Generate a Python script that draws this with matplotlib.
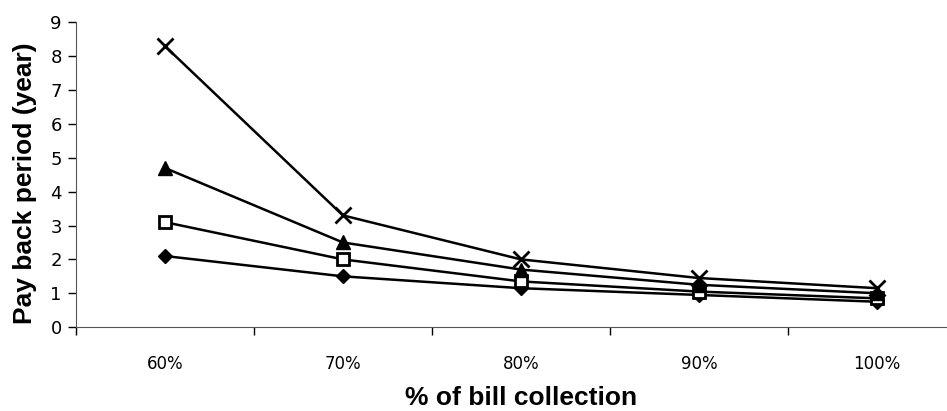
import matplotlib.pyplot as plt
plt.switch_backend('Agg')
import numpy as np
from matplotlib.ticker import FixedLocator

categories = ["60%", "70%", "80%", "90%", "100%"]
cross_vals = [8.3, 3.3, 2.0, 1.45, 1.15]
triangle_vals = [4.7, 2.5, 1.7, 1.25, 1.0]
square_vals = [3.1, 2.0, 1.35, 1.05, 0.85]
diamond_vals = [2.1, 1.5, 1.15, 0.95, 0.75]

fig = plt.figure(figsize=(9.47, 4.11), dpi=100)
ax = fig.add_axes([0.080, 0.204, 0.940, 0.742])

x = np.arange(len(categories))
ax.plot(x, diamond_vals, color='black', lw=1.8, marker='D', ms=7, mfc='black')
ax.plot(x, square_vals, color='black', lw=1.8, marker='s', ms=9, mfc='white', mew=2)
ax.plot(x, triangle_vals, color='black', lw=1.8, marker='^', ms=10, mfc='black')
ax.plot(x, cross_vals, color='black', lw=1.8, marker='x', ms=11, mew=2)

ax.set_xlim(-0.5, len(categories) - 0.5)
ax.set_ylim(0, 9)
ax.set_yticks(range(0, 10))
ax.set_xticks(x)
ax.set_xticklabels(categories)
ax.xaxis.set_minor_locator(FixedLocator(np.arange(-0.5, len(categories), 1.0)))
ax.tick_params(axis='x', which='major', length=0, pad=20, labelsize=12)
ax.tick_params(axis='x', which='minor', length=6, width=1, direction='out')
ax.tick_params(axis='y', length=6, width=1, labelsize=13, pad=4)

for s in ['top', 'right']:
    ax.spines[s].set_visible(False)
ax.spines['left'].set_color('#555555')
ax.spines['bottom'].set_color('#555555')

ax.set_ylabel("Pay back period (year)", fontsize=19, fontweight='bold',
              family='Liberation Sans')
ax.yaxis.set_label_coords(-0.057, 0.473)
ax.yaxis.label.set_va('center')
ax.set_xlabel("% of bill collection", fontsize=19, fontweight='bold',
              family='Liberation Sans')
ax.xaxis.set_label_coords(0.5, -0.232)
ax.xaxis.label.set_va('center')

plt.savefig("out.png", dpi=100)
